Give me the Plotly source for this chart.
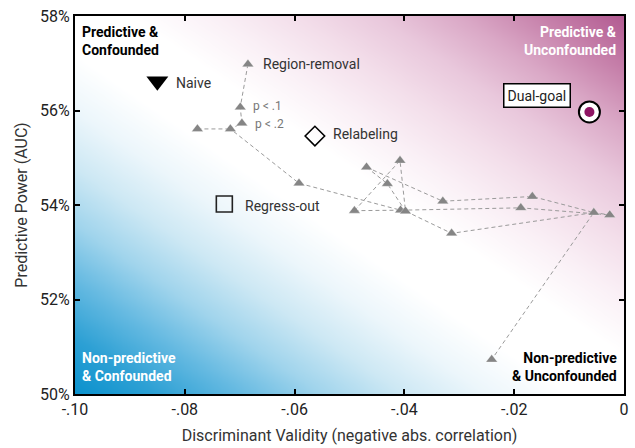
import numpy as np
import plotly.graph_objects as go

# ---- data ----
tri_x = [-0.0685, -0.0699, -0.0696, -0.0717, -0.0777, -0.0592, -0.0491, -0.0469, -0.0431,
         -0.0408, -0.0407, -0.0398, -0.0330, -0.0314, -0.0188, -0.0167, -0.0055, -0.0026, -0.0241]
tri_y = [56.98, 56.07, 55.73, 55.61, 55.61, 54.46, 53.88, 54.80, 54.45,
         54.94, 53.89, 53.87, 54.08, 53.40, 53.94, 54.18, 53.84, 53.79, 50.73]
paths = [[0, 1, 2, 3, 5, 10, 14, 17], [4, 3], [6, 9, 11, 13, 16, 18], [6, 10],
         [7, 8, 11], [7, 12, 15, 16], [16, 17]]

naive = (-0.0850, 56.62)
relabeling = (-0.0563, 55.46)
regress_out = (-0.0728, 54.02)
dual_goal = (-0.0063, 55.97)

x_ticks = [-0.10, -0.08, -0.06, -0.04, -0.02, 0]
x_tick_labels = ["-.10", "-.08", "-.06", "-.04", "-.02", "0"]
y_ticks = [50, 52, 54, 56, 58]
y_tick_labels = ["50%", "52%", "54%", "56%", "58%"]

FONT = "Roboto"
fig = go.Figure()

# background diagonal gradient
gx = np.linspace(-0.1, 0, 160)
gy = np.linspace(50, 58, 120)
U, V = np.meshgrid((gx + 0.1) / 0.1, (gy - 50) / 8)
Z = U + V - 1
cs_pts = [(-1, "rgb(10,145,205)"), (-0.85, "rgb(45,160,212)"), (-0.7, "rgb(100,185,225)"),
          (-0.55, "rgb(160,212,236)"), (-0.4, "rgb(205,232,244)"), (-0.25, "rgb(236,246,251)"),
          (-0.1, "rgb(255,255,255)"), (0.1, "rgb(255,255,255)"), (0.25, "rgb(250,240,246)"),
          (0.4, "rgb(243,222,234)"), (0.55, "rgb(233,200,220)"), (0.7, "rgb(218,168,198)"),
          (0.85, "rgb(198,128,170)"), (1, "rgb(178,90,145)")]
colorscale = [[(v + 1) / 2, c] for v, c in cs_pts]
fig.add_trace(go.Heatmap(x=gx, y=gy, z=Z, zmin=-1, zmax=1, colorscale=colorscale,
                         showscale=False, zsmooth="best", hoverinfo="skip"))

# dashed connections
lx, ly = [], []
for p in paths:
    for i in p:
        lx.append(tri_x[i]); ly.append(tri_y[i])
    lx.append(None); ly.append(None)
fig.add_trace(go.Scatter(x=lx, y=ly, mode="lines",
                         line=dict(color="#9a9a9a", width=1, dash="4px,3px"),
                         hoverinfo="skip", showlegend=False))

fig.add_trace(go.Scatter(x=tri_x, y=tri_y, mode="markers",
                         marker=dict(symbol="triangle-up", size=10, color="#858585",
                                     line=dict(color="rgba(255,255,255,0.6)", width=0.5)),
                         showlegend=False))

fig.add_trace(go.Scatter(x=[naive[0]], y=[naive[1]], mode="markers",
                         marker=dict(symbol="triangle-down", size=19, color="black"),
                         showlegend=False))
fig.add_trace(go.Scatter(x=[relabeling[0]], y=[relabeling[1]], mode="markers",
                         marker=dict(symbol="diamond-open", size=15, color="black",
                                     line=dict(width=1.6)), showlegend=False))
fig.add_trace(go.Scatter(x=[regress_out[0]], y=[regress_out[1]], mode="markers",
                         marker=dict(symbol="square-open", size=16, color="#222",
                                     line=dict(width=1.6)), showlegend=False))
fig.add_trace(go.Scatter(x=[dual_goal[0]], y=[dual_goal[1]], mode="markers",
                         marker=dict(symbol="circle", size=21, color="white",
                                     line=dict(color="black", width=2)), showlegend=False))
fig.add_trace(go.Scatter(x=[dual_goal[0]], y=[dual_goal[1]], mode="markers",
                         marker=dict(symbol="circle", size=10, color="#8e1463"),
                         showlegend=False))

ann = []
def lab(text, pt, xs, ys=0, size=14, color="#333"):
    ann.append(dict(x=pt[0], y=pt[1], xref="x", yref="y", text=text, showarrow=False,
                    xanchor="left", yanchor="middle", xshift=xs, yshift=ys,
                    font=dict(family=FONT, size=size, color=color)))

lab("Region-removal", (tri_x[0], tri_y[0]), 13, 0)
lab("p < .1", (tri_x[1], tri_y[1]), 11, 1, size=12, color="#777")
lab("p < .2", (tri_x[2], tri_y[2]), 11, -1, size=12, color="#777")
lab("Naive", naive, 17, -2)
lab("Relabeling", relabeling, 16, 2)
lab("Regress-out", regress_out, 19, -2)
ann.append(dict(x=dual_goal[0], y=dual_goal[1], xref="x", yref="y", text="Dual-goal",
                showarrow=False, xanchor="center", yanchor="middle", xshift=-52, yshift=16,
                bgcolor="white", bordercolor="black", borderwidth=1.5, borderpad=3,
                font=dict(family=FONT, size=14, color="#222")))

def corner(text, x, y, xa, ya, color):
    ann.append(dict(x=x, y=y, xref="x domain", yref="y domain", text=text, showarrow=False,
                    xanchor=xa, yanchor=ya, align=xa,
                    font=dict(family=FONT, size=14, color=color, weight="bold")))

corner("Predictive &<br>Confounded", 0.01, 0.985, "left", "top", "black")
corner("Predictive &<br>Unconfounded", 0.99, 0.985, "right", "top", "white")
corner("Non-predictive<br>& Confounded", 0.01, 0.02, "left", "bottom", "white")
corner("Non-predictive<br>& Unconfounded", 0.99, 0.02, "right", "bottom", "black")

axis_common = dict(showline=True, linecolor="black", linewidth=2, mirror="ticks",
                   ticks="inside", ticklen=5, tickwidth=2, tickcolor="black",
                   showgrid=False, zeroline=False,
                   tickfont=dict(family=FONT, size=16, color="#222"))

fig.update_layout(
    width=635, height=448, margin=dict(l=75, r=6, t=16, b=54),
    paper_bgcolor="white", plot_bgcolor="white", showlegend=False,
    annotations=ann,
    xaxis=dict(range=[-0.1, 0], tickvals=x_ticks, ticktext=x_tick_labels,
               title=dict(text="Discriminant Validity (negative abs. correlation)",
                          font=dict(family=FONT, size=16, color="#333"), standoff=12),
               **axis_common),
    yaxis=dict(range=[50, 58], tickvals=y_ticks, ticktext=y_tick_labels,
               title=dict(text="Predictive Power (AUC)",
                          font=dict(family=FONT, size=16, color="#333"), standoff=8),
               **axis_common),
)

fig.write_html("out.html")
